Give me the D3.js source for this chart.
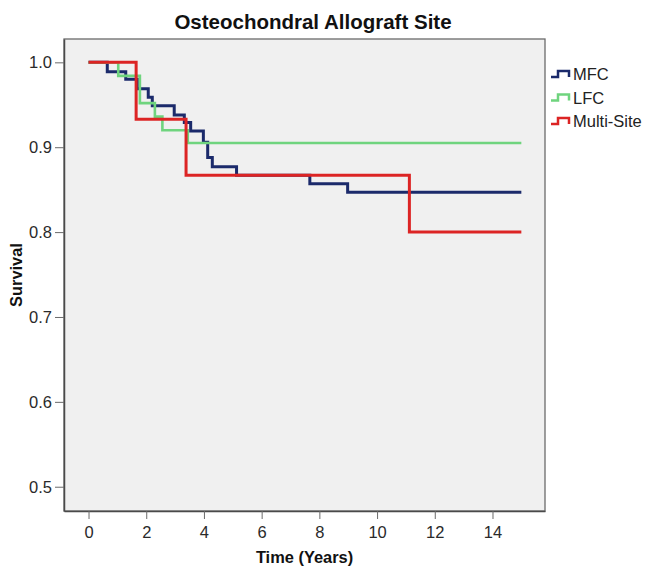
<!DOCTYPE html>
<html>
<head>
<meta charset="utf-8">
<script src="https://cdn.jsdelivr.net/npm/d3@7"></script>
<style>
  html, body { margin: 0; padding: 0; background: #fff; }
  svg { display: block; font-family: "Liberation Sans", Arial, sans-serif; }
</style>
</head>
<body>
<svg id="chart" width="645" height="567"></svg>
<script>
const title = "Osteochondral Allograft Site";
const xLabel = "Time (Years)";
const yLabel = "Survival";
const seriesNames = ["MFC", "LFC", "Multi-Site"];
const seriesColors = ["#1b2a6b", "#6fd47e", "#dc2424"];

const mfcTimes = [0, 0.65, 1.29, 1.69, 2.07, 2.21, 2.97, 3.32, 3.54, 3.98, 4.13, 4.29, 5.13, 7.67, 8.98, 15];
const mfcSurv  = [1.0, 0.989, 0.980, 0.969, 0.959, 0.949, 0.938, 0.929, 0.919, 0.906, 0.888, 0.877, 0.867, 0.857, 0.847, 0.847];
const lfcTimes = [0, 1.03, 1.78, 2.30, 2.56, 3.44, 15];
const lfcSurv  = [1.0, 0.984, 0.952, 0.936, 0.920, 0.905, 0.905];
const multiTimes = [0, 1.65, 3.38, 11.12, 15];
const multiSurv  = [1.0, 0.933, 0.867, 0.800, 0.800];

const xTicks = [0, 2, 4, 6, 8, 10, 12, 14];
const yTicks = [0.5, 0.6, 0.7, 0.8, 0.9, 1.0];

const plot = { left: 64, top: 39, right: 545, bottom: 511 };

const x = d3.scaleLinear().domain([-0.85, 15.82]).range([plot.left, plot.right]);
const y = d3.scaleLinear().domain([0.4714, 1.0275]).range([plot.bottom, plot.top]);

const svg = d3.select("#chart");

svg.append("rect")
  .attr("x", plot.left).attr("y", plot.top)
  .attr("width", plot.right - plot.left).attr("height", plot.bottom - plot.top)
  .attr("fill", "#f0f0f0").attr("stroke", "#6a6a6a").attr("stroke-width", 1.3);

const xAxis = svg.append("g")
  .attr("transform", `translate(0,${plot.bottom})`)
  .call(d3.axisBottom(x).tickValues(xTicks).tickSizeInner(8).tickSizeOuter(0).tickPadding(7).tickFormat(d3.format("d")));
const yAxis = svg.append("g")
  .attr("transform", `translate(${plot.left},0)`)
  .call(d3.axisLeft(y).tickValues(yTicks).tickSizeInner(9).tickSizeOuter(0).tickPadding(3).tickFormat(d3.format(".1f")));

[xAxis, yAxis].forEach(g => {
  g.select(".domain").attr("stroke", "#4a4a4a").attr("stroke-width", 1.5);
  g.selectAll(".tick line").attr("stroke", "#6a6a6a").attr("stroke-width", 1);
  g.selectAll(".tick text").attr("fill", "#2a2a2a").style("font-size", "16.5px")
    .style("font-family", "'Liberation Sans', Arial, sans-serif");
});

const line = d3.line().x(d => x(d[0])).y(d => y(d[1])).curve(d3.curveStepAfter);
const series = [
  d3.zip(mfcTimes, mfcSurv),
  d3.zip(lfcTimes, lfcSurv),
  d3.zip(multiTimes, multiSurv)
];
const widths = [3, 2.6, 3];
series.forEach((s, i) => {
  svg.append("path").datum(s)
    .attr("d", line)
    .attr("fill", "none")
    .attr("stroke", seriesColors[i])
    .attr("stroke-width", widths[i]);
});

svg.append("text")
  .attr("x", 313).attr("y", 29)
  .attr("text-anchor", "middle")
  .style("font-size", "20.5px").style("font-weight", "bold").attr("fill", "#111")
  .text(title);

svg.append("text")
  .attr("x", (plot.left + plot.right) / 2).attr("y", 563)
  .attr("text-anchor", "middle")
  .style("font-size", "16.4px").style("font-weight", "bold").attr("fill", "#111")
  .text(xLabel);

svg.append("text")
  .attr("transform", `translate(22,${(plot.top + plot.bottom) / 2}) rotate(-90)`)
  .attr("text-anchor", "middle")
  .style("font-size", "16.4px").style("font-weight", "bold").attr("fill", "#111")
  .text(yLabel);

const legend = svg.append("g").attr("transform", "translate(551,74)");
seriesNames.forEach((name, i) => {
  const g = legend.append("g").attr("transform", `translate(0,${i * 23.5})`);
  g.append("path")
    .attr("d", "M0,3 H7 V-3 H18 V3")
    .attr("fill", "none").attr("stroke", seriesColors[i]).attr("stroke-width", 2.5);
  g.append("text")
    .attr("x", 22).attr("y", 6)
    .style("font-size", "16.5px").attr("fill", "#222")
    .text(name);
});
</script>
</body>
</html>
